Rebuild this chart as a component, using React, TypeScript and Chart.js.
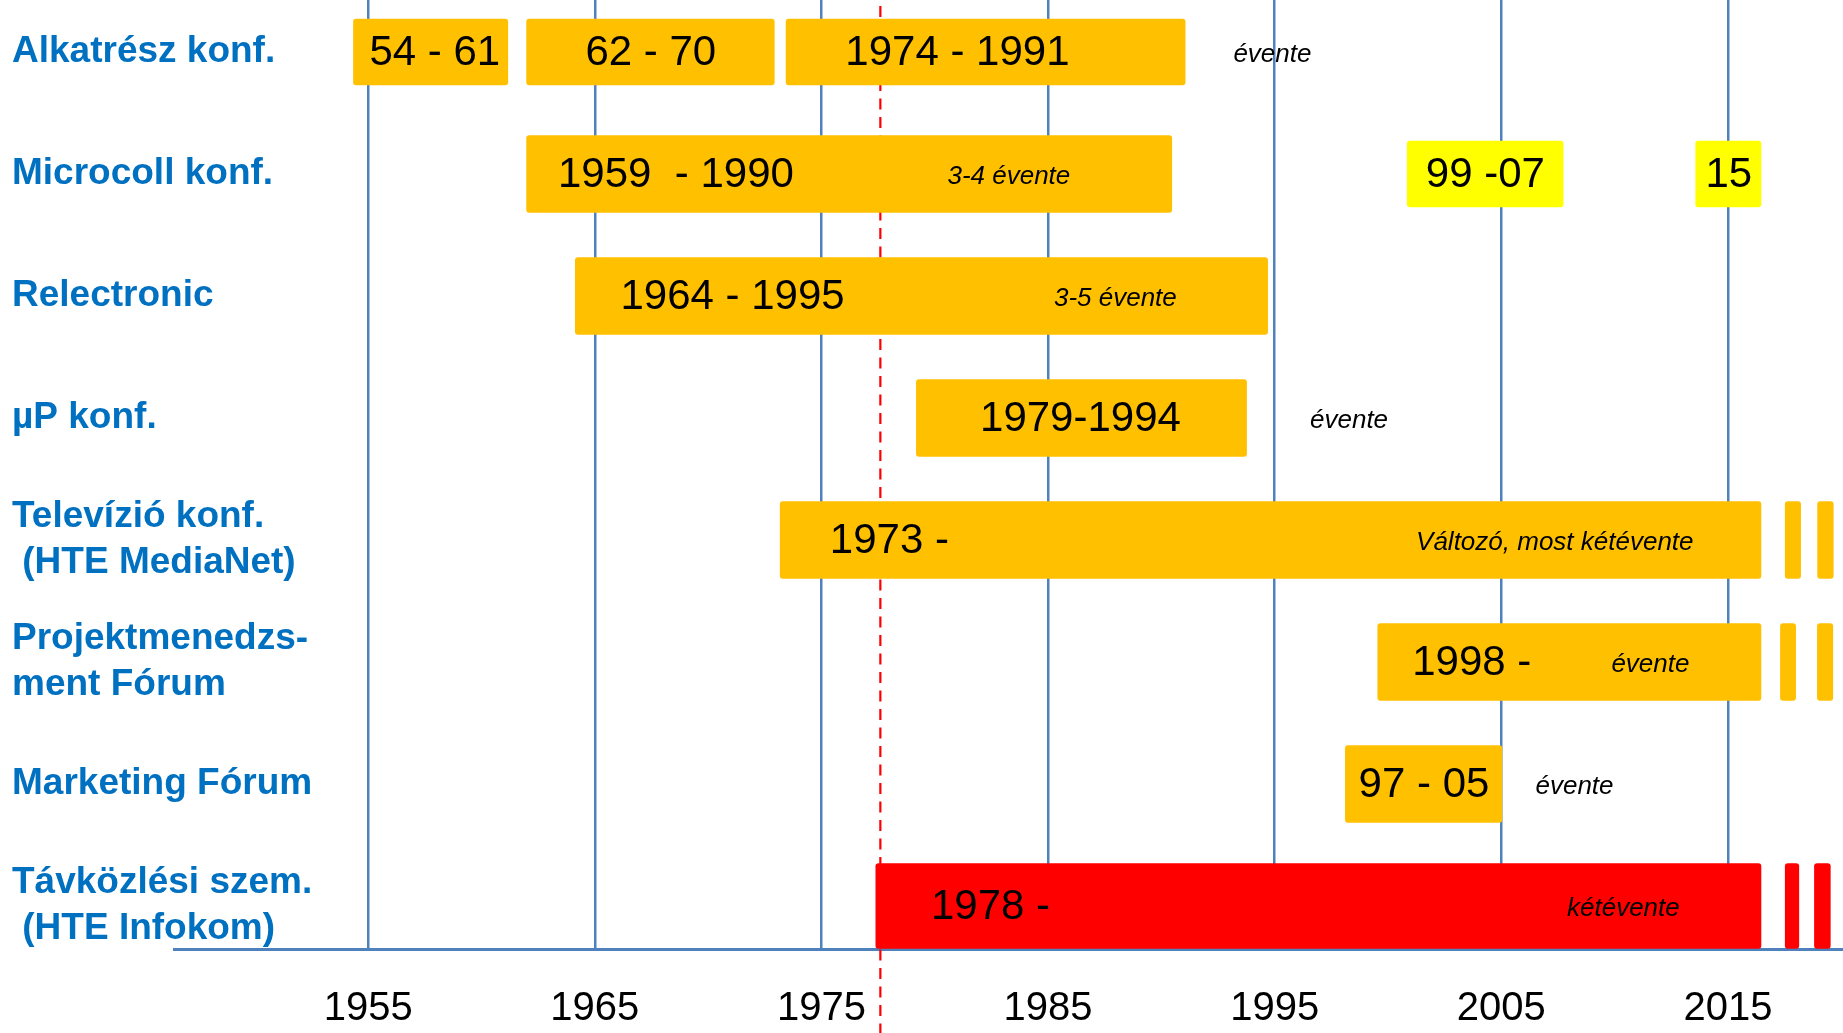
import React, { useEffect, useRef } from "react";
import { Chart, registerables } from "chart.js";

Chart.register(...registerables);

// ---------- data ----------
const rowLabels: string[][] = [
  ["Alkatrész konf."],
  ["Microcoll konf."],
  ["Relectronic"],
  ["µP konf."],
  ["Televízió konf.", " (HTE MediaNet)"],
  ["Projektmenedzs-", "ment Fórum"],
  ["Marketing Fórum"],
  ["Távközlési szem.", " (HTE Infokom)"],
];

const yearTicks = [1955, 1965, 1975, 1985, 1995, 2005, 2015];

// Alkatrész konf. (row 0)
const alkRows = [0, 0, 0];
const alkStart = [1954.35, 1961.99, 1973.44];
const alkEnd = [1961.16, 1972.92, 1991.05];

// other orange bars
const orangeRows = [1, 2, 3, 4, 4, 4, 5, 5, 5, 6];
const orangeStart = [1961.99, 1964.14, 1979.19, 1973.18, 2017.53, 2018.96, 1999.55, 2017.32, 2018.95, 1998.12];
const orangeEnd = [1990.46, 1994.69, 1993.76, 2016.46, 2018.21, 2019.65, 2016.46, 2017.99, 2019.63, 2005.03];

// yellow bars (Microcoll)
const yellowRows = [1, 1];
const yellowStart = [2000.85, 2013.58];
const yellowEnd = [2007.73, 2016.46];

// red bars (Távközlési szem.)
const redRows = [7, 7, 7];
const redStart = [1977.4, 2017.53, 2018.82];
const redEnd = [2016.46, 2018.13, 2019.52];

// texts inside bars (centred on year)
const barTexts = ["54 - 61", "62 - 70", "1974 - 1991", "1959  - 1990", "99 -07", "15", "1964 - 1995", "1979-1994", "1973 -", "1998 -", "97 - 05", "1978 -"];
const barTextRows = [0, 0, 0, 1, 1, 1, 2, 3, 4, 5, 6, 7];
const barTextYears = [1957.94, 1967.47, 1981.0, 1968.58, 2004.3, 2015.04, 1971.08, 1986.43, 1978.0, 2003.7, 2001.59, 1982.46];

// italic frequency notes (start at year)
const noteTexts = ["évente", "3-4 évente", "3-5 évente", "évente", "Változó, most kétévente", "évente", "évente", "kétévente"];
const noteRows = [0, 1, 2, 3, 4, 5, 6, 7];
const noteYears = [1993.18, 1980.56, 1985.26, 1996.56, 2001.24, 2009.86, 2006.51, 2007.9];

const markerYear = 1977.6;

// ---------- styling ----------
const FONT = "'Liberation Sans', Arial, sans-serif";
const ORANGE = "#FFC000";
const YELLOW = "#FFFF00";
const RED = "#FF0000";
const GRID_BLUE = "#4F81BD";
const LABEL_BLUE = "#0070C0";

const toPoints = (rows: number[], s: number[], e: number[]) =>
  rows.map((r, i) => ({ x: [s[i], e[i]], y: r }));

const overlayPlugin = {
  id: "overlay",
  beforeDatasetsDraw(chart: any) {
    const { ctx, scales } = chart;
    const px = scales.x.getPixelForValue(markerYear);
    ctx.save();
    ctx.strokeStyle = RED;
    ctx.lineWidth = 2.2;
    ctx.setLineDash([11, 7.5]);
    ctx.beginPath();
    ctx.moveTo(px, 6);
    ctx.lineTo(px, chart.height);
    ctx.stroke();
    ctx.restore();
  },
  afterDatasetsDraw(chart: any) {
    const { ctx, scales } = chart;
    const { x, y } = scales;
    ctx.save();
    // row labels (category names)
    ctx.fillStyle = LABEL_BLUE;
    ctx.textAlign = "left";
    ctx.textBaseline = "middle";
    ctx.font = `bold 37px ${FONT}`;
    const lh = 46;
    rowLabels.forEach((lines, i) => {
      const cy = y.getPixelForValue(i);
      const y0 = cy - ((lines.length - 1) * lh) / 2;
      lines.forEach((ln, j) => ctx.fillText(ln, 12, y0 + j * lh));
    });
    // texts inside bars
    ctx.fillStyle = "#000";
    ctx.textAlign = "center";
    ctx.font = `42px ${FONT}`;
    barTexts.forEach((t, i) => {
      ctx.fillText(t, x.getPixelForValue(barTextYears[i]), y.getPixelForValue(barTextRows[i]) + 1);
    });
    // italic notes
    ctx.textAlign = "left";
    ctx.font = `italic 26px ${FONT}`;
    noteTexts.forEach((t, i) => {
      ctx.fillText(t, x.getPixelForValue(noteYears[i]), y.getPixelForValue(noteRows[i]) + 3);
    });
    ctx.restore();
  },
};

export default function App() {
  const ref = useRef<HTMLCanvasElement | null>(null);

  useEffect(() => {
    if (!ref.current) return;
    const common = { borderRadius: 3, borderSkipped: false as const, borderWidth: 0 };
    const chart = new Chart(ref.current, {
      type: "bar",
      data: {
        datasets: [
          { label: "Alkatrész", data: toPoints(alkRows, alkStart, alkEnd) as any, backgroundColor: ORANGE, barThickness: 66, ...common },
          { label: "orange", data: toPoints(orangeRows, orangeStart, orangeEnd) as any, backgroundColor: ORANGE, barThickness: 77, ...common },
          { label: "yellow", data: toPoints(yellowRows, yellowStart, yellowEnd) as any, backgroundColor: YELLOW, barThickness: 66, ...common },
          { label: "red", data: toPoints(redRows, redStart, redEnd) as any, backgroundColor: RED, barThickness: 85, ...common },
        ],
      },
      options: {
        indexAxis: "y",
        animation: false,
        responsive: true,
        maintainAspectRatio: false,
        layout: { padding: { left: 174, right: 0, top: 0, bottom: 0 } },
        datasets: { bar: { grouped: false } } as any,
        plugins: { legend: { display: false }, tooltip: { enabled: false } },
        scales: {
          x: {
            type: "linear",
            position: "bottom",
            offset: false,
            min: 1946.43,
            max: 2020.08,
            afterBuildTicks: (scale: any) => {
              scale.ticks = yearTicks.map((v) => ({ value: v }));
            },
            afterFit: (scale: any) => {
              scale.height = 83.5;
            },
            grid: { color: GRID_BLUE, lineWidth: 2.5, drawTicks: false, offset: false },
            border: { color: GRID_BLUE, width: 3 },
            ticks: {
              autoSkip: false,
              maxRotation: 0,
              padding: 35,
              color: "#000",
              font: { family: FONT, size: 40 },
              callback: (v: any) => String(v),
            },
          },
          y: {
            type: "linear",
            display: false,
            offset: false,
            grid: { offset: false },
            reverse: true,
            min: -0.4262,
            max: 7.3566,
          },
        },
      },
      plugins: [overlayPlugin],
    });
    return () => chart.destroy();
  }, []);

  return (
    <div style={{ position: "fixed", left: 0, top: 0, width: 1843, height: 1033, background: "#fff" }}>
      <canvas ref={ref} />
    </div>
  );
}
